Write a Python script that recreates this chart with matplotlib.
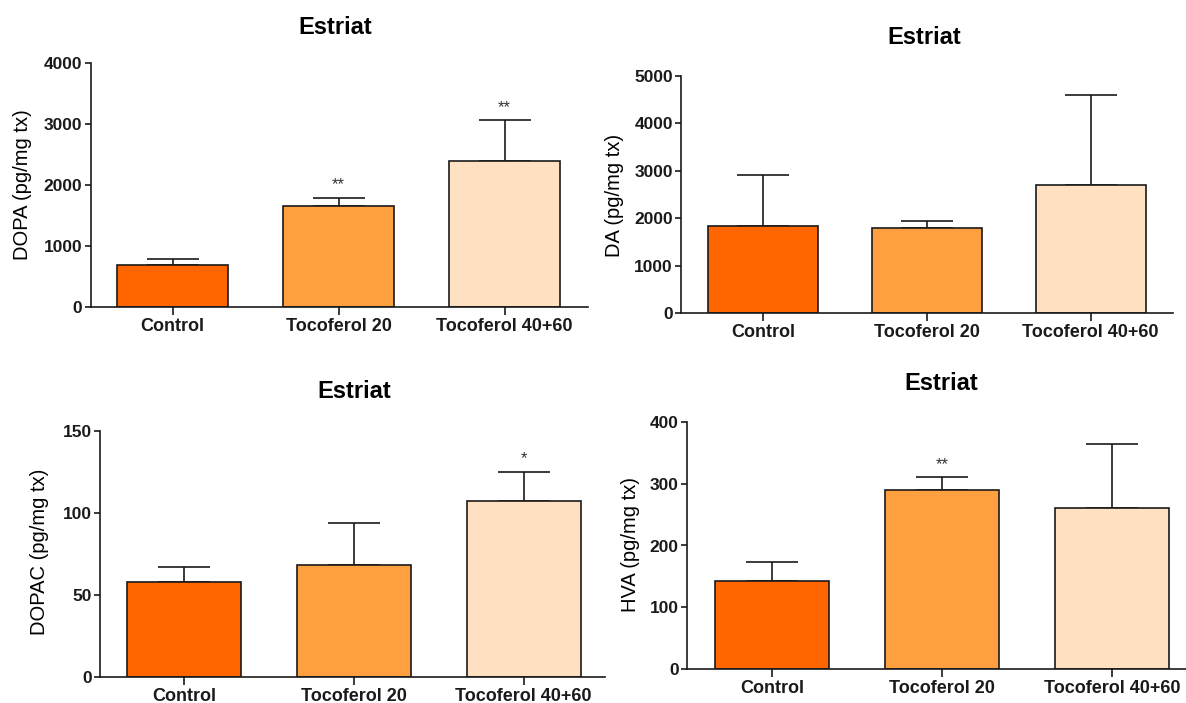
import matplotlib
matplotlib.use("Agg")
import matplotlib.pyplot as plt

plt.rcParams['font.family'] = ['Liberation Sans', 'DejaVu Sans']

W, H = 1186, 703

groups = ["Control", "Tocoferol 20", "Tocoferol 40+60"]
colors = ["#FF6600", "#FFA040", "#FFE0C1"]

dopa_mean = [690, 1650, 2400]
dopa_err = [92, 140, 660]
dopa_sig = ["", "**", "**"]

da_mean = [1840, 1800, 2700]
da_err = [1070, 140, 1910]
da_sig = ["", "", ""]

dopac_mean = [58, 68, 107]
dopac_err = [9, 26, 18]
dopac_sig = ["", "", "*"]

hva_mean = [143, 290, 260]
hva_err = [30, 20, 104]
hva_sig = ["", "**", ""]

fig = plt.figure(figsize=(W / 100, H / 100), dpi=100)


def panel(left, right, y0, ytop, xlim, ymax, ystep, mean, err, sig, ylabel,
          ylab_xy, title_xy):
    ax = fig.add_axes([left / W, (H - y0) / H, (right - left) / W, (y0 - ytop) / H])
    x = list(range(len(groups)))
    ax.bar(x, mean, width=0.67, color=colors, edgecolor="#1a1a1a", linewidth=1.2, zorder=2)
    ax.errorbar(x, mean, yerr=[[0] * len(err), err], fmt="none", ecolor="#1a1a1a",
                elinewidth=1.2, capsize=19, capthick=1.2, zorder=1)
    for xi, m, e, s in zip(x, mean, err, sig):
        if s:
            ax.annotate(s, (xi, m + e), xytext=(0, 6), textcoords="offset points",
                        ha="center", va="baseline", fontsize=12, color="#333333")
    ax.set_xlim(*xlim)
    ax.set_ylim(0, ymax)
    ax.set_yticks(range(0, ymax + 1, ystep))
    ax.set_xticks(x)
    ax.set_xticklabels(groups, fontsize=13, fontweight="bold")
    for t in ax.get_yticklabels():
        t.set_fontsize(12.5)
        t.set_fontweight("bold")
    ax.spines["top"].set_visible(False)
    ax.spines["right"].set_visible(False)
    for sp in ("left", "bottom"):
        ax.spines[sp].set_linewidth(1.2)
        ax.spines[sp].set_color("#1a1a1a")
    ax.tick_params(axis="y", length=4.5, width=1.2, pad=1.5, colors="#1a1a1a")
    ax.tick_params(axis="x", length=6, width=1.2, pad=2, colors="#1a1a1a")
    fig.text(ylab_xy[0] / W, 1 - ylab_xy[1] / H, ylabel, rotation=90,
             ha="center", va="center", fontsize=14.5)
    fig.text(title_xy[0] / W, 1 - title_xy[1] / H, "Estriat", ha="center",
             va="center", fontsize=17, fontweight="bold")
    return ax


panel(90.7, 587.5, 307, 63, (-0.493, 2.499), 4000, 1000, dopa_mean, dopa_err, dopa_sig,
      "DOPA (pg/mg tx)", (23, 185), (335, 27))
panel(681.2, 1173.4, 313.3, 76, (-0.5, 2.505), 5000, 1000, da_mean, da_err, da_sig,
      "DA (pg/mg tx)", (615, 195), (924.5, 38))
panel(100.3, 605, 676.7, 430.7, (-0.495, 2.479), 150, 50, dopac_mean, dopac_err, dopac_sig,
      "DOPAC (pg/mg tx)", (40, 552), (354, 392))
panel(687, 1186, 669.3, 421.7, (-0.5, 2.435), 400, 100, hva_mean, hva_err, hva_sig,
      "HVA (pg/mg tx)", (630, 545), (941.6, 383))

fig.savefig("out.png", dpi=100)
